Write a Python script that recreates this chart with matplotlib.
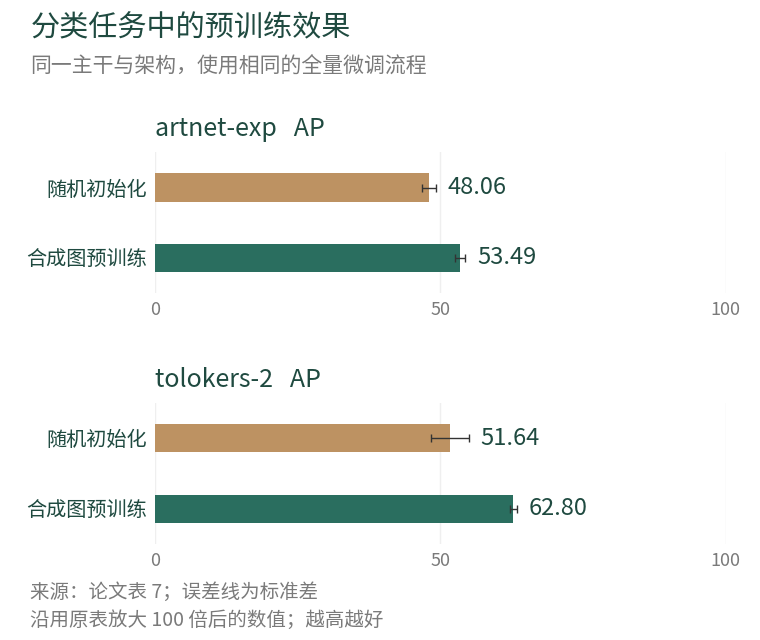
import matplotlib.pyplot as plt

plt.rcParams['font.family'] = ['Noto Sans CJK SC', 'DejaVu Sans']

panels = ["artnet-exp   AP", "tolokers-2   AP"]
methods = ["随机初始化", "合成图预训练"]
means = [[48.06, 53.49], [51.64, 62.80]]
errs = [[1.2, 0.9], [3.3, 0.6]]
ticks = [0, 50, 100]

colors = ["#BD9262", "#2A6E5F"]
dark = "#1F4A40"
grey = "#7A7A7A"

fig = plt.figure(figsize=(7.6, 6.4), dpi=100)
fig.text(0.04, 0.955, "分类任务中的预训练效果", fontsize=21, color=dark, va="center")
fig.text(0.04, 0.896, "同一主干与架构，使用相同的全量微调流程", fontsize=15, color=grey, va="center")

bottoms = [0.542, 0.150]
for i, ax_b in enumerate(bottoms):
    ax = fig.add_axes([0.204, ax_b, 0.751, 0.220])
    y = range(len(methods))
    ax.barh(y, means[i], height=0.4, color=colors, zorder=2)
    ax.errorbar(means[i], y, xerr=errs[i], fmt="none", ecolor="#333333",
                elinewidth=1, capsize=3, zorder=3)
    for yy, m, e in zip(y, means[i], errs[i]):
        ax.text(m + e + 2, yy, f"{m:.2f}", va="center", ha="left",
                fontsize=17, color=dark)
    ax.set_ylim(1.5, -0.5)
    ax.set_xlim(0, 100)
    ax.set_yticks(list(y))
    ax.set_yticklabels(methods, fontsize=14.5, color=dark)
    ax.set_xticks(ticks)
    ax.set_xticklabels([str(t) for t in ticks], fontsize=13, color=grey)
    ax.tick_params(length=0, pad=6)
    ax.tick_params(axis="x", pad=6)
    ax.grid(axis="x", color="#EFEFEF", lw=1, zorder=0)
    for s in ax.spines.values():
        s.set_visible(False)
    ax.set_title(panels[i], loc="left", fontsize=18, color=dark, pad=12)

fig.text(0.04, 0.075, "来源：论文表 7；误差线为标准差", fontsize=14, color=grey, va="center")
fig.text(0.04, 0.031, "沿用原表放大 100 倍后的数值；越高越好", fontsize=14, color=grey, va="center")

fig.savefig("out.png", dpi=100)
